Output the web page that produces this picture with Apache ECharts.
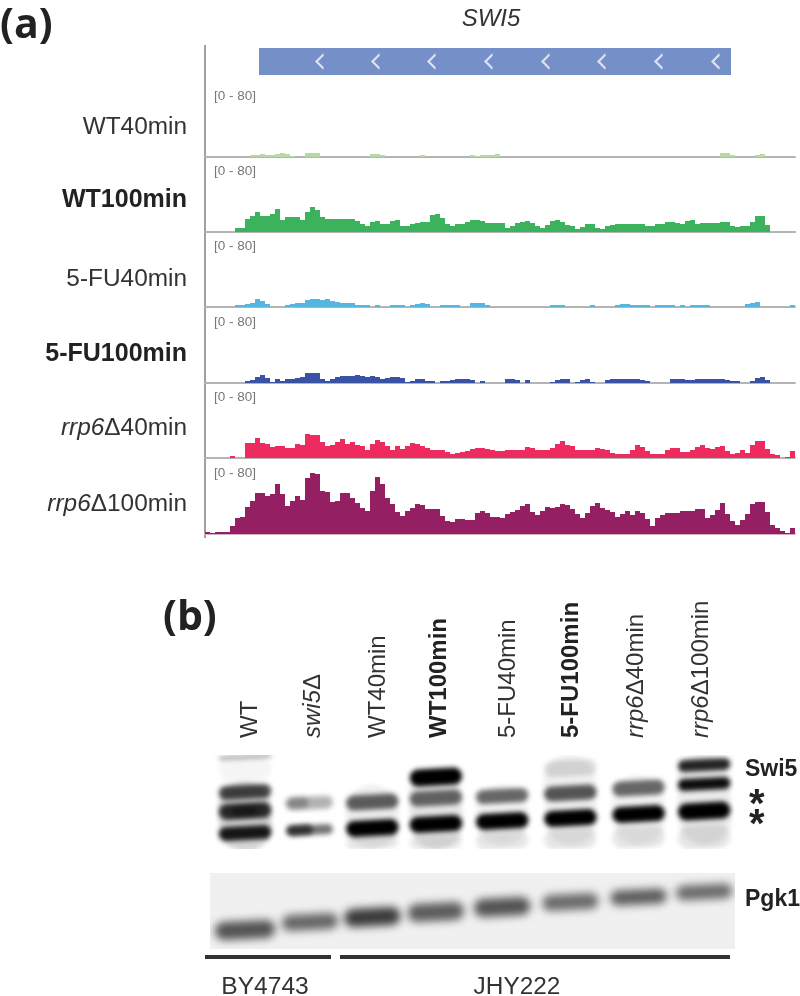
<!DOCTYPE html>
<html><head><meta charset="utf-8">
<script src="https://cdn.jsdelivr.net/npm/echarts@6/dist/echarts.min.js"></script>
<style>html,body{margin:0;padding:0;background:#fff}#c{width:800px;height:996px}</style>
</head><body><div id="c"></div>
<script>
// ---- Panel (a): coverage per genomic bin, scale [0 - 80] ----
const wt40 = [0,0,0,0,0,0,0,0,0,2, 2,3,2,2,3,4,3,1,0,0, 4,4,4,0,0,0,0,0,0,0, 0,0,0,3,3,2,0,0,0,0, 0,0,0,2,0,0,0,0,0,0, 0,0,0,2,1,2,2,2,3,0,
  0,0,0,0,0,0,0,0,0,0, 0,0,0,0,0,0,0,0,0,0, 0,0,0,0,0,0,0,0,0,0, 0,0,0,0,0,0,0,0,0,0, 0,0,0,4,4,2,0,0,0,0, 2,3,0,0,0,0,0,0];
const wt100 = [0,0,0,0,0,0,4,4,13,16, 20,16,16,18,23,12,15,15,15,12, 20,25,22,15,13,13,13,13,13,13, 11,8,6,10,11,8,8,11,12,6, 6,8,9,10,10,17,18,14,8,6, 8,8,10,12,12,11,9,9,9,9,
  4,6,9,10,11,9,6,4,7,11, 12,10,7,6,3,5,8,8,4,3, 6,7,8,8,8,8,8,8,6,6, 8,8,10,10,9,8,11,12,8,9, 9,9,9,10,10,6,5,6,6,10, 16,16,7,0,0,0,0,0];
const fu40 = [0,0,0,0,0,0,2,2,3,4, 8,6,3,0,0,0,2,3,4,4, 7,8,8,7,8,6,5,4,4,4, 2,2,2,0,2,0,0,2,2,2, 0,2,3,4,3,0,0,2,2,2, 2,0,0,4,4,4,2,0,0,0,
  0,0,0,0,0,0,0,0,0,2, 2,2,0,0,0,0,0,2,0,0, 0,0,2,3,3,2,2,2,2,0, 2,2,2,2,0,2,0,2,2,2, 2,0,0,0,0,0,0,0,3,4, 5,0,0,0,0,0,0,2];
const fu100 = [0,0,0,0,0,0,0,0,2,3, 6,8,5,1,4,2,4,4,5,6, 10,10,10,4,2,4,6,7,7,7, 8,7,6,7,6,4,5,6,6,5, 1,2,4,4,2,2,0,2,2,3, 4,4,4,3,0,2,0,0,0,0,
  4,4,3,0,3,0,0,0,0,1, 3,4,4,0,1,3,4,1,0,0, 3,4,4,4,4,4,4,3,2,0, 0,0,0,4,4,4,3,3,4,4, 4,4,4,4,3,2,2,0,0,2, 5,6,3,0,0,0,0,0];
const rrp40 = [0,0,0,0,0,2,0,0,15,15, 20,15,14,11,12,12,10,10,14,13, 24,23,23,16,12,13,16,19,14,16, 13,12,8,14,18,16,12,8,12,9, 12,15,14,12,10,8,8,8,6,4, 5,6,7,9,10,10,9,8,7,7,
  8,8,8,8,11,10,8,8,8,10, 14,17,13,12,8,8,8,8,10,9, 8,5,4,4,4,8,13,11,7,4, 4,4,8,10,10,6,6,8,11,13, 10,9,11,12,7,4,5,8,5,13, 17,17,9,4,3,0,1,7];
const rrp100 = [2,1,2,2,2,8,16,17,27,33, 41,41,38,40,50,40,28,33,38,34, 56,61,60,43,42,32,33,41,41,36, 31,26,23,43,57,50,36,30,22,18, 23,26,30,29,25,25,25,18,13,12, 15,15,14,14,21,23,21,17,17,16,
  20,22,24,28,30,22,19,23,27,26, 27,30,29,25,20,16,21,28,31,26, 24,22,17,20,23,19,23,21,15,8, 16,19,21,21,21,23,23,23,25,25, 16,19,24,31,20,13,9,14,20,30, 32,32,22,9,6,3,1,6];

const trackLabels = ['WT40min','{b|WT100min}','5-FU40min','{b|5-FU100min}','{i|rrp6}Δ40min','{i|rrp6}Δ100min'];
const trackSeries = [wt40, wt100, fu40, fu100, rrp40, rrp100];
const trackColors = ['#b9d8a8','#3db25c','#56b6e2','#3a52a3','#ee2b5f','#941f62'];
const baselines = [157, 232, 307, 383, 458, 534];
const scaleLabel = '[0 - 80]';

const geneSpan = [[10.8, 105.2]];
const geneArrows = [23, 34.2, 45.4, 56.8, 68.2, 79.4, 90.8, 102.2];
const geneName = 'SWI5';

// ---- Panel (b): blot lanes and bands: [lane, migration, intensity, spread, widthFraction, laneOffset] ----
const lanePos = [1, 1.99, 2.94, 3.91, 4.92, 5.96, 7.0, 8.0];
const laneLabels = ['WT','{i|swi5}Δ','WT40min','{b|WT100min}','5-FU40min','{b|5-FU100min}','{i|rrp6}Δ40min','{i|rrp6}Δ100min'];
const swi5Bands = [
  [1,62,.16,70],[1,14,.04,26],[1,2,.5,2.5],[1,37,.72,14],[1,56,.82,16],[1,56,.4,9,.4],[1,78,.9,14],
  [2,48,.3,13,.7],[2,48,.25,11,.35,-.2],[2,75,.55,10,.7],[2,75,.6,10,.4,-.16],
  [3,62,.07,64],[3,47,.62,15],[3,73,1,16],[3,87,.09,14],
  [4,55,.1,80],[4,22,1,17],[4,43,.58,15],[4,69,1,16],[4,87,.09,14],
  [5,60,.05,60],[5,41,.58,14],[5,66,1,16],[5,85,.1,18],
  [6,45,.06,90],[6,13,.13,16],[6,38,.65,15],[6,63,1,16],[6,84,.1,20],
  [7,55,.05,70],[7,33,.58,15],[7,59,1,16],[7,82,.1,22],
  [8,45,.08,90],[8,10,.85,12],[8,29,.95,12],[8,56,1,17],[8,82,.1,24]
];
const pgk1Bands = [
  [1,57,.66,18,.92],[2,49,.58,16,.86],[3,44,.76,18,.86],[4,39,.62,18,.86],
  [5,34,.66,18,.86],[6,29,.56,16,.86],[7,24,.62,15,.86],[8,19,.56,15,.86]
];
const strainLabels = ['BY4743','JHY222'];

// ---- Layout ----
const sans = '"Liberation Sans", Arial, sans-serif';
const grid = [], xAxis = [], yAxis = [], series = [], graphic = [];
const bins = wt40.map((_, i) => i);

trackSeries.forEach((vals, k) => {
  grid.push({left:205, width:590, top:baselines[k]-80, height:80});
  xAxis.push({type:'category', gridIndex:k, data:bins, axisTick:{show:false}, axisLabel:{show:false},
    splitLine:{show:false}, axisLine:{lineStyle:{color:k===5?'#d3aec8':'#b4b4b4', width:2}}});
  yAxis.push({type:'value', gridIndex:k, min:0, max:80, show:false});
  series.push({type:'bar', xAxisIndex:k, yAxisIndex:k, data:vals, barWidth:'100%', barGap:0,
    silent:true, itemStyle:{color:trackColors[k]}});
});

// gene model
grid.push({left:205, width:590, top:48, height:27});
xAxis.push({type:'value', gridIndex:6, min:0, max:118, show:false});
yAxis.push({type:'value', gridIndex:6, min:0, max:1, show:false});
series.push({type:'custom', xAxisIndex:6, yAxisIndex:6, data:geneSpan, silent:true,
  renderItem:(p, api) => {
    const a = api.coord([api.value(0), 1]), b = api.coord([api.value(1), 0]);
    return {type:'rect', shape:{x:a[0], y:a[1], width:b[0]-a[0], height:b[1]-a[1]}, style:{fill:'#7590c9'}};
  }});
series.push({type:'scatter', xAxisIndex:6, yAxisIndex:6, silent:true,
  data:geneArrows.map(x => [x, .5]), symbol:'path://M10 0 L0 10 L10 20', symbolSize:[7,14],
  itemStyle:{color:'rgba(0,0,0,0)', borderColor:'#f4f6fb', borderWidth:2}});

// blot panels: each band is drawn off-panel, only its blurred shadow lands inside the clip
const OFF = 3000;
const bandItem = blur => (p, api) => {
  const c = api.coord([lanePos[api.value(0)-1] + api.value(5), api.value(1)]);
  const w = api.size([api.value(4), 0])[0], h = api.size([0, api.value(3)])[1];
  const col = 'rgba(0,0,0,' + api.value(2) + ')';
  return {type:'rect', x:c[0]-OFF, y:c[1], rotation:0.05,
    shape:{x:-w/2, y:-h/2, width:w, height:h, r:Math.min(h,w)/2},
    style:{fill:'#000', shadowBlur:blur, shadowColor:col, shadowOffsetX:OFF}};
};
const blot = [[755,94,swi5Bands,'#ffffff',5],[873,76,pgk1Bands,'#f0f0f0',9]];
blot.forEach((b, j) => {
  const g = 7 + j;
  grid.push({left:210, width:525, top:b[0], height:b[1], show:true, backgroundColor:b[3], borderWidth:0});
  xAxis.push({type:'value', gridIndex:g, min:0.466, max:8.47, show:false});
  yAxis.push({type:'value', gridIndex:g, min:0, max:b[1], inverse:true, show:false});
  series.push({type:'custom', xAxisIndex:g, yAxisIndex:g, clip:true, silent:true, renderItem:bandItem(b[4]),
    data:b[2].map(r => [r[0], r[1], r[2], r[3], r[4] || .8, r[5] || 0])});
});

// text & decorations
const rich = fs => ({i:{fontStyle:'italic', fontFamily:sans, fontSize:fs, fill:'#333'},
                     b:{fontWeight:'bold', fontFamily:sans, fontSize:fs, fill:'#222'}});
function txt(x, y, text, fs, o) {
  graphic.push(Object.assign({type:'text', x, y, z:10, silent:true,
    style:Object.assign({text, fontFamily:sans, fontSize:fs, fill:'#333', textAlign:'left', textVerticalAlign:'middle', rich:rich(fs)}, o&&o.style)},
    o&&o.el));
}
graphic.push({type:'line', silent:true, shape:{x1:205,y1:45,x2:205,y2:538}, style:{stroke:'#808080', lineWidth:1.5}});
trackLabels.forEach((t, k) => txt(187, [127,200,279,354,428,504][k], t, k%2&&k<4?25:24.4, {style:{textAlign:'right'}}));
baselines.forEach(b => txt(214, b-61, scaleLabel, 13.5, {style:{fill:'#777'}}));
txt(491, 19, geneName, 24, {style:{textAlign:'center', fontStyle:'italic'}});
txt(0, 26, '(a)', 41, {style:{fontFamily:'"Open Sans", sans-serif', fontWeight:'bold', fill:'#222'}});
txt(163, 618, '(b)', 41, {style:{fontFamily:'"Open Sans", sans-serif', fontWeight:'bold', fill:'#222'}});
const laneLabelX = [250, 313, 378, 439, 508, 571, 636, 701];
laneLabels.forEach((t, k) => txt(laneLabelX[k], 738, t, 24, {el:{rotation:Math.PI/2}}));
txt(745, 770, 'Swi5', 23, {style:{fontWeight:'bold', fill:'#222'}});
txt(749, 806, '*', 40, {style:{fontWeight:'bold', fill:'#222'}});
txt(749, 826, '*', 40, {style:{fontWeight:'bold', fill:'#222'}});
txt(745, 900, 'Pgk1', 23, {style:{fontWeight:'bold', fill:'#222'}});
graphic.push({type:'rect', silent:true, shape:{x:205,y:955,width:126,height:4}, style:{fill:'#333'}});
graphic.push({type:'rect', silent:true, shape:{x:340,y:955,width:390,height:4}, style:{fill:'#333'}});
txt(265, 987, strainLabels[0], 24.6, {style:{textAlign:'center'}});
txt(517, 987, strainLabels[1], 24.4, {style:{textAlign:'center'}});

const chart = echarts.init(document.getElementById('c'), null, {renderer:'canvas'});
chart.setOption({animation:false, backgroundColor:'#fff', grid, xAxis, yAxis, series, graphic:{elements:graphic}});
</script></body></html>
